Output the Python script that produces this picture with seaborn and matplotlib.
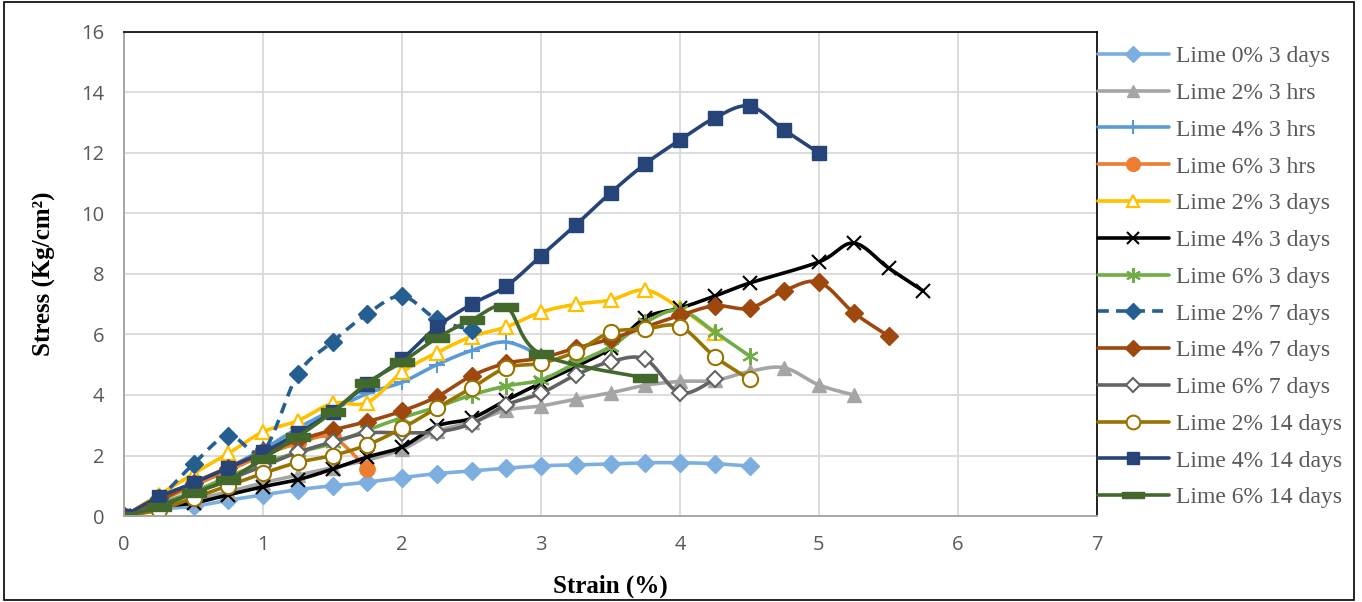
import numpy as np
import pandas as pd
import matplotlib
matplotlib.use("Agg")
import matplotlib.pyplot as plt
from matplotlib.lines import Line2D
from matplotlib.patches import Rectangle
import seaborn as sns

# ---- data: stress (kg/cm2) against strain (%) ----
strain = [0, 0.25, 0.5, 0.75, 1.0, 1.25, 1.5, 1.75, 2.0, 2.25, 2.5, 2.75,
          3.0, 3.25, 3.5, 3.75, 4.0, 4.25, 4.5, 4.75, 5.0, 5.25, 5.5, 5.75]

lime0_3d = [0, 0.22, 0.32, 0.52, 0.7, 0.87, 1.0, 1.12, 1.27, 1.4, 1.49, 1.58,
            1.66, 1.69, 1.72, 1.76, 1.76, 1.73, 1.65]
lime2_3h = [0, 0.3, 0.55, 0.8, 1.1, 1.35, 1.6, 1.85, 2.2, 2.8, 3.1, 3.5,
            3.64, 3.86, 4.07, 4.32, 4.45, 4.48, 4.78, 4.9, 4.33, 4.0]
lime4_3h = [0, 0.5, 1.0, 1.6, 2.2, 2.9, 3.5, 4.05, 4.42, 5.0, 5.47, 5.75, 5.3]
lime6_3h = [0, 0.5, 1.0, 1.5, 2.0, 2.4, 2.6, 1.55]
lime2_3d = [0, 0.7, 1.4, 2.07, 2.78, 3.15, 3.72, 3.75, 4.75, 5.4, 5.93, 6.25,
            6.74, 7.0, 7.14, 7.47, 6.87, 6.05]
strain_4_3d = [0, 0.25, 0.5, 0.75, 1.0, 1.25, 1.5, 1.75, 2.0, 2.25, 2.5, 2.75,
               3.0, 3.25, 3.5, 3.75, 4.0, 4.25, 4.5, 5.0, 5.25, 5.5, 5.75]
lime4_3d = [0, 0.3, 0.43, 0.7, 0.97, 1.2, 1.55, 1.95, 2.28, 2.97, 3.23, 3.83,
            4.4, 4.94, 5.55, 6.55, 6.87, 7.27, 7.7, 8.4, 9.02, 8.2, 7.44]
lime6_3d = [0, 0.4, 0.8, 1.3, 1.75, 2.1, 2.4, 2.84, 3.25, 3.6, 4.0, 4.3,
            4.5, 5.05, 5.6, 6.4, 6.8, 6.08, 5.29]
lime2_7d = [0, 0.6, 1.72, 2.66, 2.15, 4.68, 5.76, 6.68, 7.27, 6.5, 6.15]
lime4_7d = [0, 0.5, 1.1, 1.6, 2.1, 2.5, 2.84, 3.12, 3.47, 3.94, 4.63, 5.05,
            5.22, 5.55, 5.85, 6.25, 6.63, 6.95, 6.87, 7.45, 7.73, 6.72, 5.95]
lime6_7d = [0, 0.35, 0.75, 1.2, 1.65, 2.1, 2.45, 2.74, 2.75, 2.78, 3.05, 3.67,
            4.06, 4.66, 5.1, 5.18, 4.07, 4.52]
lime2_14d = [0, 0.2, 0.6, 1.0, 1.41, 1.77, 2.0, 2.35, 2.9, 3.57, 4.23, 4.9,
             5.05, 5.43, 6.07, 6.18, 6.26, 5.27, 4.52]
lime4_14d = [0, 0.63, 1.09, 1.59, 2.1, 2.74, 3.45, 4.36, 5.19, 6.25, 7.0, 7.6,
             8.6, 9.62, 10.68, 11.64, 12.43, 13.16, 13.55, 12.76, 12.0]
strain_6_14d = [0, 0.25, 0.5, 0.75, 1.0, 1.25, 1.5, 1.75, 2.0, 2.25, 2.5, 2.75,
                3.0, 3.75]
lime6_14d = [0, 0.3, 0.76, 1.19, 1.9, 2.62, 3.44, 4.4, 5.09, 5.88, 6.48, 6.9,
             5.35, 4.56]

labels = ["Lime 0% 3 days", "Lime 2% 3 hrs", "Lime 4% 3 hrs", "Lime 6% 3 hrs",
          "Lime 2% 3 days", "Lime 4% 3 days", "Lime 6% 3 days", "Lime 2% 7 days",
          "Lime 4% 7 days", "Lime 6% 7 days", "Lime 2% 14 days",
          "Lime 4% 14 days", "Lime 6% 14 days"]

series = [
    (strain, lime0_3d), (strain, lime2_3h), (strain, lime4_3h),
    (strain, lime6_3h), (strain, lime2_3d), (strain_4_3d, lime4_3d),
    (strain, lime6_3d), (strain, lime2_7d), (strain, lime4_7d),
    (strain, lime6_7d), (strain, lime2_14d), (strain, lime4_14d),
    (strain_6_14d, lime6_14d),
]

# ---- styles ----
bar_marker = [(-1, -0.3), (1, -0.3), (1, 0.3), (-1, 0.3), (-1, -0.3)]
asterisk = (6, 2, 0)
styles = [
    dict(color="#7DAEE0", marker="D", ms=9),
    dict(color="#A5A5A5", marker="^", ms=10),
    dict(color="#5B9BD5", marker="+", ms=11, mew=1.5),
    dict(color="#ED7D31", marker="o", ms=11),
    dict(color="#FFC000", marker="^", ms=10, mfc="white", mew=1.6),
    dict(color="#000000", marker="x", ms=10, mew=1.5),
    dict(color="#70AD47", marker=asterisk, ms=12, mew=1.5),
    dict(color="#255E91", marker="D", ms=9, dashes=(3, 2)),
    dict(color="#9E480E", marker="D", ms=9),
    dict(color="#636363", marker="D", ms=8, mfc="white", mew=1.5),
    dict(color="#997300", marker="o", ms=11, mfc="white", mew=1.5),
    dict(color="#264478", marker="s", ms=10),
    dict(color="#43682B", marker=bar_marker, ms=17),
]
LW = 2.6


def bezier_smooth(xs, ys, n=20):
    """Catmull-Rom style cubic Bezier smoothing through the data points."""
    P = np.column_stack([xs, ys]).astype(float)
    m = len(P)
    out = [P[0]]
    t = np.linspace(0, 1, n + 1)[1:, None]
    for i in range(m - 1):
        p0 = P[i - 1] if i > 0 else P[i]
        p1, p2 = P[i], P[i + 1]
        p3 = P[i + 2] if i + 2 < m else P[i + 1]
        c1 = p1 + (p2 - p0) / 6.0
        c2 = p2 - (p3 - p1) / 6.0
        seg = ((1 - t) ** 3) * p1 + 3 * ((1 - t) ** 2) * t * c1 \
            + 3 * (1 - t) * t ** 2 * c2 + t ** 3 * p2
        out.extend(seg)
    out = np.array(out)
    return out[:, 0], out[:, 1]


sns.set_theme(style="white")
plt.rcParams["font.family"] = ["Open Sans", "DejaVu Sans"]

fig = plt.figure(figsize=(13.62, 6.02), dpi=100)
ax = fig.add_axes([124 / 1362, 1 - 516 / 602, (1097 - 124) / 1362, (516 - 32) / 602])

handles = []
for (xs, ys), lab, st in zip(series, labels, styles):
    ys = list(ys)
    xs = list(xs)[:len(ys)]
    sx, sy = bezier_smooth(xs, ys)
    line_kw = dict(color=st["color"], lw=LW)
    if "dashes" in st:
        line_kw["dashes"] = st["dashes"]
    sns.lineplot(x=sx, y=sy, sort=False, estimator=None, ax=ax, **line_kw)
    mk = dict(marker=st["marker"], markersize=st["ms"],
              markerfacecolor=st.get("mfc", st["color"]),
              markeredgecolor=st["color"],
              markeredgewidth=st.get("mew", 1.0))
    pts = pd.DataFrame({"strain": xs, "stress": ys})
    sns.lineplot(data=pts, x="strain", y="stress", sort=False, estimator=None,
                 ax=ax, linestyle="none", color=st["color"], **mk)
    hk = dict(mk)
    hk["markersize"] = st["ms"] * 0.9
    h = Line2D([0], [0], color=st["color"], lw=LW,
               linestyle=(0, st["dashes"]) if "dashes" in st else "-", **hk)
    handles.append(h)

ax.set_xlim(0, 7)
ax.set_ylim(0, 16)
ax.set_xticks(range(0, 8))
ax.set_yticks(range(0, 17, 2))
ax.grid(True, color="#D9D9D9", lw=1.3)
ax.set_axisbelow(True)
ax.tick_params(axis="both", length=0, labelsize=14.5, colors="#595959")
ax.tick_params(axis="x", pad=14)
ax.tick_params(axis="y", pad=14)
for s in ["left", "bottom"]:
    ax.spines[s].set_color("#A6A6A6")
    ax.spines[s].set_linewidth(1.4)
for s in ["top", "right"]:
    ax.spines[s].set_color("#000000")
    ax.spines[s].set_linewidth(1.2)

serif = ["Liberation Serif", "DejaVu Serif"]
ax.set_xlabel("Strain (%)", family=serif, fontsize=18, fontweight="bold",
              color="black", labelpad=14)
ax.set_ylabel("Stress (Kg/cm²)", family=serif, fontsize=18, fontweight="bold",
              color="black", labelpad=18)

leg = ax.legend(handles, labels, loc="upper left",
                bbox_to_anchor=(1.0 - 4 / 973, 1.0 - 9 / 484),
                frameon=False, prop={"family": serif, "size": 17},
                handlelength=3.0, handletextpad=0.3, labelspacing=0.645,
                borderaxespad=0.0, borderpad=0.2)
for t in leg.get_texts():
    t.set_color("#595959")

fig.patches.append(Rectangle((0.003, 0.003), 0.991, 0.994, transform=fig.transFigure,
                             fill=False, edgecolor="black", lw=1.2))

fig.savefig("out.png", dpi=100)
